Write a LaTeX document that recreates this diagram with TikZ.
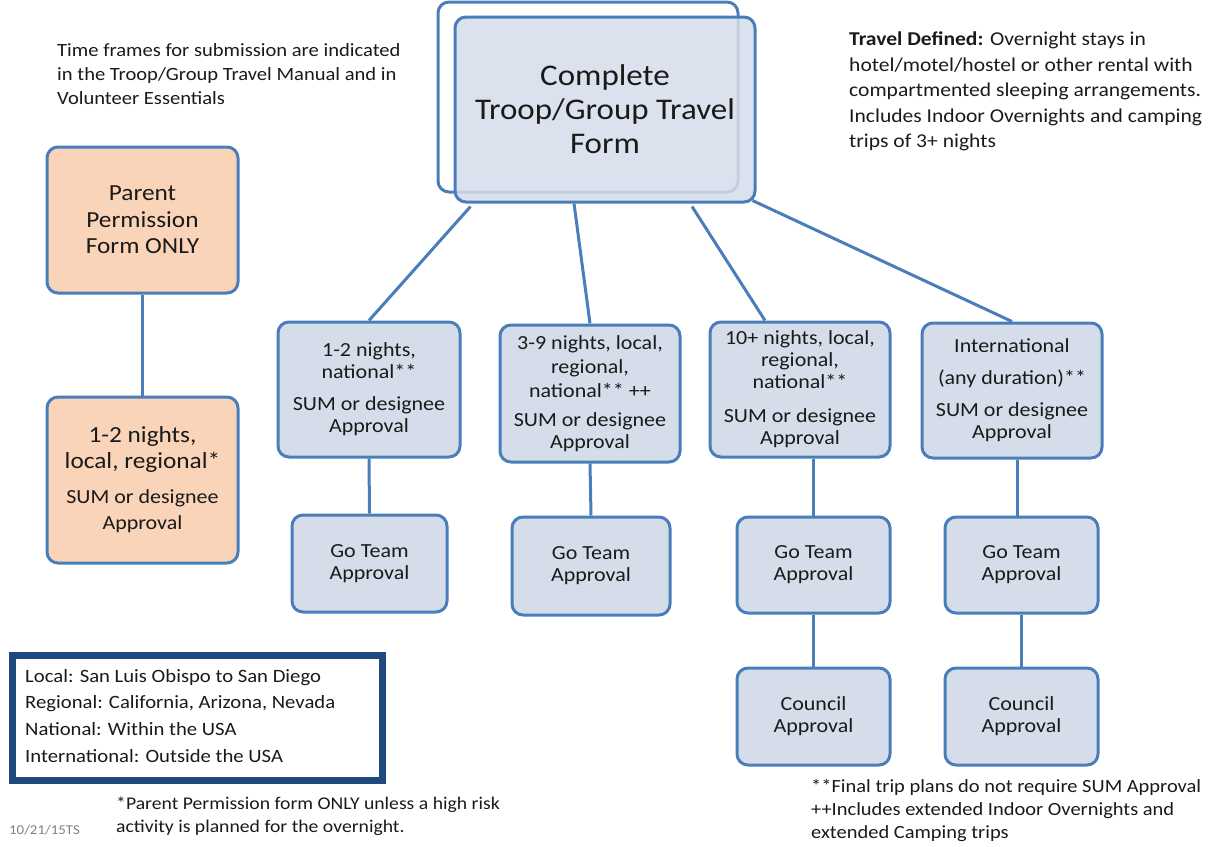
\documentclass[tikz,border=0pt]{standalone}
\usepackage{fontspec}
\setmainfont[FakeStretch=1.1]{Carlito}
\usetikzlibrary{calc}
\definecolor{bfill}{HTML}{D6DDEA}
\definecolor{pfill}{HTML}{FAD4B8}
\definecolor{bline}{HTML}{4A7EBB}
\definecolor{navy}{HTML}{1F4A7E}
\definecolor{txt}{HTML}{1A1A1A}
\begin{document}
\begin{tikzpicture}[x=1pt,y=-1pt,
  box/.style={draw=bline, line width=3pt, rounded corners=11pt, fill=bfill, align=center, inner sep=0pt, text=txt},
  pbox/.style={box, fill=pfill},
  conn/.style={draw=bline, line width=3pt},
  note/.style={inner sep=0pt, anchor=north west, align=left, text=txt},
  big/.style={font=\fontsize{30}{34}\selectfont},
  mid/.style={font=\fontsize{20}{22}\selectfont}]
\useasboundingbox (0,0) rectangle (1215,846);
% main box
\node[box, fill=white, minimum width=300pt, minimum height=190pt] (back) at (588,97) {};
\node[box, fill opacity=0.85, text opacity=1, minimum width=300pt, minimum height=185pt, big] (main) at (605,109.5) {Complete\\Troop/Group Travel\\Form};
% left column
\node[pbox, minimum width=191pt, minimum height=146pt, font=\fontsize{23}{26.5}\selectfont] (pp) at (142.5,220) {Parent\\Permission\\Form ONLY};
\node[pbox, minimum width=191pt, minimum height=166pt, font=\fontsize{23}{26}\selectfont] (loc) at (142.5,480) {1-2 nights,\\local, regional*\\[9pt]{\fontsize{20}{21}\selectfont SUM or designee}\\{\fontsize{20}{21}\selectfont Approval}};
% middle row
\node[box, minimum width=182pt, minimum height=135pt, mid] (a1) at (369,389.5) {1-2 nights,\\national**\\[10pt]SUM or designee\\Approval};
\node[box, minimum width=180pt, minimum height=137pt, mid] (b1) at (590,393.5) {3-9 nights, local,\\[2pt]regional,\\[2pt]national** ++\\[7pt]SUM or designee\\Approval};
\node[box, minimum width=180pt, minimum height=135pt, mid] (c1) at (800,389.5) {10+ nights, local,\\regional,\\national**\\[12pt]SUM or designee\\Approval};
\node[box, minimum width=180pt, minimum height=135pt, mid] (d1) at (1012,390.5) {International\\[10pt](any duration)**\\[10pt]SUM or designee\\Approval};
% go team
\node[box, minimum width=155pt, minimum height=97pt, mid] (a2) at (369.5,563.5) {Go Team\\Approval};
\node[box, minimum width=158pt, minimum height=98pt, mid] (b2) at (591,566) {Go Team\\Approval};
\node[box, minimum width=153pt, minimum height=96pt, mid] (c2) at (813.5,565) {Go Team\\Approval};
\node[box, minimum width=153pt, minimum height=96pt, mid] (d2) at (1021.5,565) {Go Team\\Approval};
% council
\node[box, minimum width=153pt, minimum height=97pt, mid] (c3) at (813.5,716.5) {Council\\Approval};
\node[box, minimum width=153pt, minimum height=97pt, mid] (d3) at (1021.5,716.5) {Council\\Approval};
% connectors
\draw[conn] (pp.south) -- (loc.north);
\draw[conn] ([xshift=17pt,yshift=-3pt]main.south west) -- (a1.north);
\draw[conn] ([xshift=-31pt]main.south) -- (b1.north);
\draw[conn] ([xshift=87pt,yshift=-3pt]main.south) -- ([xshift=-35pt]c1.north);
\draw[conn] ([xshift=-4pt,yshift=3pt]main.south east) -- (d1.north);
\draw[conn] (a1.south) -- (a2.north);
\draw[conn] (b1.south) -- (b2.north);
\draw[conn] (c2.north |- c1.south) -- (c2.north);
\draw[conn] (c2.south) -- (c3.north);
\draw[conn] ([xshift=-4pt]d2.north |- d1.south) -- ([xshift=-4pt]d2.north);
\draw[conn] (d2.south) -- (d3.north);
% legend
\node[draw=navy, line width=7pt, fill=white, minimum width=370pt, minimum height=125pt, inner sep=0pt] (legend) at (197,717.5) {};
\node[note, font=\fontsize{18.8}{26.7}\selectfont] (legtext) at (25,669) {Local: San Luis Obispo to San Diego\\Regional: California, Arizona, Nevada\\National: Within the USA\\International: Outside the USA};
% notes
\node[note, font=\fontsize{18.7}{24}\selectfont] (tl) at (57,43) {Time frames for submission are indicated\\in the Troop/Group Travel Manual and in\\Volunteer Essentials};
\node[note, font=\fontsize{19.6}{25.5}\selectfont] (tr) at (849,32) {\textbf{Travel Defined:} Overnight stays in\\hotel/motel/hostel or other rental with\\compartmented sleeping arrangements.\\Includes Indoor Overnights and camping\\trips of 3+ nights};
\node[note, font=\fontsize{17.9}{23}\selectfont] (bl) at (116,797) {*Parent Permission form ONLY unless a high risk\\activity is planned for the overnight.};
\node[note, font=\fontsize{13.5}{15}\selectfont, text=black!50] (date) at (9,825) {10/21/15TS};
\node[note, font=\fontsize{18.6}{23}\selectfont] (br) at (811,779) {**Final trip plans do not require SUM Approval\\++Includes extended Indoor Overnights and\\extended Camping trips};
\end{tikzpicture}
\end{document}
